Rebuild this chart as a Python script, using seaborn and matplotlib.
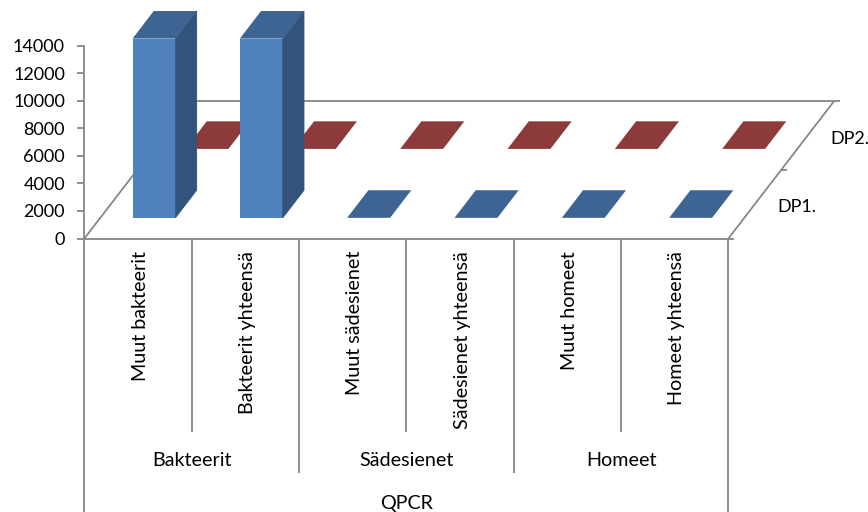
import matplotlib
matplotlib.use("Agg")
import matplotlib.pyplot as plt
from matplotlib.patches import Polygon
from matplotlib.transforms import ScaledTranslation
import seaborn as sns

categories = ["Muut bakteerit", "Bakteerit yhteensä", "Muut sädesienet",
              "Sädesienet yhteensä", "Muut homeet", "Homeet yhteensä"]
dp1 = [13000, 13000, 0, 0, 0, 0]
dp2 = [0, 0, 0, 0, 0, 0]
groups = ["Bakteerit", "Sädesienet", "Homeet"]
series_names = ["DP1.", "DP2."]
yticks = [0, 2000, 4000, 6000, 8000, 10000, 12000, 14000]

# oblique shift of the floor: full depth in category units / value units
DEPTH_X = 0.988
DEPTH_Y = 10000
BAR_W = 0.4
GRAY = "#868686"
W, H = 868, 512
AX_L, AX_R, AX_T, AX_B = 84.4, 728.4, 45.5, 238.5

sns.set_theme(style="white")
plt.rcParams["font.family"] = ["Lato", "DejaVu Sans"]

fig = plt.figure(figsize=(W / 100, H / 100), dpi=100)
ax = fig.add_axes([AX_L / W, 1 - AX_B / H, (AX_R - AX_L) / W, (AX_B - AX_T) / H])


def project(x, depth, value):
    return x + depth * DEPTH_X, value + depth * DEPTH_Y


def draw_series(values, row, front, top, side, zorder):
    start = (row + 0.3) * 0.5
    depth = 0.2
    bottom = start * DEPTH_Y
    sns.barplot(x=categories, y=values, color=front, saturation=1, width=BAR_W,
                bottom=bottom, clip_on=False, linewidth=0, zorder=zorder, ax=ax)
    for i, (bar, v) in enumerate(zip(ax.containers[-1], values)):
        bar.set_x(i - BAR_W / 2 + start * DEPTH_X)
        x0, x1 = i - BAR_W / 2, i + BAR_W / 2
        top_face = [project(x0, start, v), project(x1, start, v),
                    project(x1, start + depth, v), project(x0, start + depth, v)]
        side_face = [project(x1, start, 0), project(x1, start + depth, 0),
                     project(x1, start + depth, v), project(x1, start, v)]
        if v > 0:
            # edge in the face colour closes the seam against the front face
            ax.add_patch(Polygon(side_face, fc=side, ec=side, lw=0.6, clip_on=False, zorder=zorder))
        ax.add_patch(Polygon(top_face, fc=top, ec="none", clip_on=False, zorder=zorder))


# floor edges and depth ticks
line_kw = dict(color=GRAY, lw=1.3, clip_on=False, zorder=1, solid_capstyle="butt")
for x in (-0.5, 5.5):
    ax.plot(*zip(project(x, 0, 0), project(x, 1, 0)), **line_kw)
ax.plot(*zip(project(-0.5, 1, 0), project(5.5, 1, 0)), **line_kw)
for d in (0, 0.5, 1):
    ax.plot(*zip(project(5.5, d, 0), project(5.556, d, 0)), **line_kw)

draw_series(dp2, 1, "#4F81BD", "#8C3A3A", "#6E2E2E", 2)
draw_series(dp1, 0, "#4F81BD", "#3D6492", "#31537C", 3)

ax.set_xlim(-0.5, 5.5)
ax.set_ylim(0, 14000)
ax.set_yticks(yticks)
ax.set_xlabel("")
ax.set_ylabel("")
ax.set_xticks(range(len(categories)), categories, rotation=90)
ax.tick_params(axis="x", length=0, pad=9, labelsize=14.2, colors="black")
ax.tick_params(axis="y", left=True, length=5, width=1.3, color=GRAY, pad=9, labelsize=13,
               labelcolor="black")
sns.despine(ax=ax)
for s in ("left", "bottom"):
    ax.spines[s].set_color(GRAY)
    ax.spines[s].set_linewidth(1.3)
    ax.spines[s].set_zorder(4)
nudge = ScaledTranslation(2 / 100, 0, fig.dpi_scale_trans)
for label in ax.get_xticklabels():
    label.set_va("top")
    label.set_transform(label.get_transform() + nudge)


# multi-level category axis below the floor
def below(px):
    return (AX_B - px) / (AX_B - AX_T)


trans = ax.get_xaxis_transform()
for x in (0.5, 2.5, 4.5):
    ax.plot([x, x], [0, below(431.5)], transform=trans, **line_kw)
for x in (1.5, 3.5):
    ax.plot([x, x], [0, below(473)], transform=trans, **line_kw)
for x in (-0.5, 5.5):
    ax.plot([x, x], [0, below(512)], transform=trans, **line_kw)
for i, g in enumerate(groups):
    ax.text(0.5 + 2 * i, below(461), g, transform=trans, ha="center", va="center", fontsize=14.2, color="black")
ax.text(2.5, below(504), "QPCR", transform=trans, ha="center", va="center", fontsize=14.2, color="black")

# series names on the depth axis
for r, name in enumerate(series_names):
    x, y = project(5.5, 0.25 + 0.5 * r, 0)
    ax.text(x + 0.205, y - 250, name, ha="left", va="center", fontsize=13, color="black", clip_on=False)

fig.savefig("out.png", dpi=100)
